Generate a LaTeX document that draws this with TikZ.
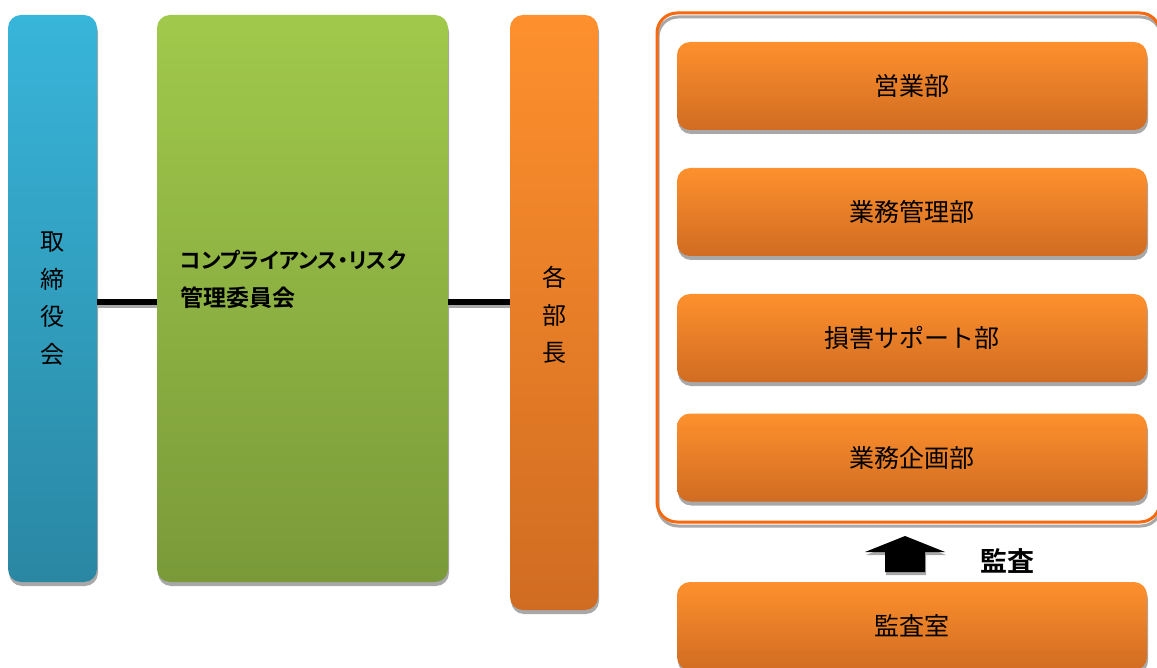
\documentclass[tikz,border=0pt]{standalone}
\usepackage{fontspec}
\newfontfamily\jp{Noto Sans CJK JP}[BoldFont={Noto Sans CJK JP Bold}]
\newfontfamily\jpp{Noto Sans CJK JP Bold}[RawFeature=+palt]
\usetikzlibrary{shadows}
\definecolor{bluetop}{HTML}{38B5DA}
\definecolor{bluebot}{HTML}{2A87A3}
\definecolor{greentop}{HTML}{A1C94B}
\definecolor{greenbot}{HTML}{7A9A39}
\definecolor{orangetop}{HTML}{FE902D}
\definecolor{orangebot}{HTML}{D06C22}
\definecolor{framecol}{HTML}{F7690F}
\definecolor{shadowcol}{HTML}{A8A8A8}
\tikzset{
  solid shadow/.style={drop shadow={shadow xshift=1pt, shadow yshift=-4pt, fill=shadowcol, opacity=1}},
  panel/.style={rounded corners=13pt, inner sep=0pt, solid shadow, font=\jp\fontsize{24}{37.5}\selectfont, align=center},
  bluepanel/.style={panel, top color=bluetop, bottom color=bluebot},
  greenpanel/.style={panel, top color=greentop, bottom color=greenbot},
  orangepanel/.style={panel, top color=orangetop, bottom color=orangebot},
  dept/.style={orangepanel, minimum width=470pt, minimum height=88pt, font=\jp\fontsize{25}{30}\selectfont},
  link/.style={line width=6pt, black},
  linkshadow/.style={line width=6pt, shadowcol},
  blockarrow/.style={fill=black, preaction={fill=shadowcol, transform canvas={xshift=1pt, yshift=-3pt}}}
}
\begin{document}
\begin{tikzpicture}[x=1pt, y=-1pt]
\useasboundingbox (0,0) rectangle (1157,668);
% left columns
\node[bluepanel, minimum width=89pt, minimum height=567pt] (board) at (52.5,298.5) {取\\締\\役\\会};
\node[greenpanel, minimum width=291pt, minimum height=567pt] (comm) at (302.5,298.5) {};
\node[anchor=west, align=left, inner sep=0pt, font=\fontsize{23}{38}\selectfont] (commlabel) at (180,279)
  {{\jpp\fontsize{21.5}{38}\selectfont コンプライアンス・リスク}\\{\jp\bfseries 管理委員会}};
\node[orangepanel, minimum width=88pt, minimum height=595pt] (heads) at (554,312.5) {};
\node[font=\jp\fontsize{24}{37.5}\selectfont, align=center] (headslabel) at (554,315) {各\\部\\長};
% links
\draw[linkshadow] ([yshift=-7pt]board.east) -- ([yshift=-7pt]board.east -| comm.west);
\draw[link] ([yshift=-4pt]board.east) -- ([yshift=-4pt]board.east -| comm.west);
\draw[linkshadow] ([yshift=-7pt]comm.east) -- ([yshift=-7pt]comm.east -| heads.west);
\draw[link] ([yshift=-4pt]comm.east) -- ([yshift=-4pt]comm.east -| heads.west);
% departments
\node[draw=framecol, line width=3pt, rounded corners=20pt,
  preaction={draw=shadowcol, line width=3pt, transform canvas={xshift=1pt, yshift=-4pt}},
  minimum width=503pt, minimum height=509pt, inner sep=0pt] (frame) at (908.5,267.5) {};
\node[dept] (sales) at (912,86) {営業部};
\node[dept] (ops) at (912,212) {業務管理部};
\node[dept] (claims) at (912,338) {損害サポート部};
\node[dept] (plan) at (912,457.5) {業務企画部};
% audit
\node[dept] (audit) at (912,626) {監査室};
\coordinate (arrowtip) at (905,536);
\fill[blockarrow] (arrowtip) -- ++(40,16) -- ++(-20,0) -- ++(0,20) -- ++(-40,0) -- ++(0,-20) -- ++(-20,0) -- cycle;
\node[font=\jp\bfseries\fontsize{27}{30}\selectfont] (auditlabel) at (1007,561) {監査};
\end{tikzpicture}
\end{document}
